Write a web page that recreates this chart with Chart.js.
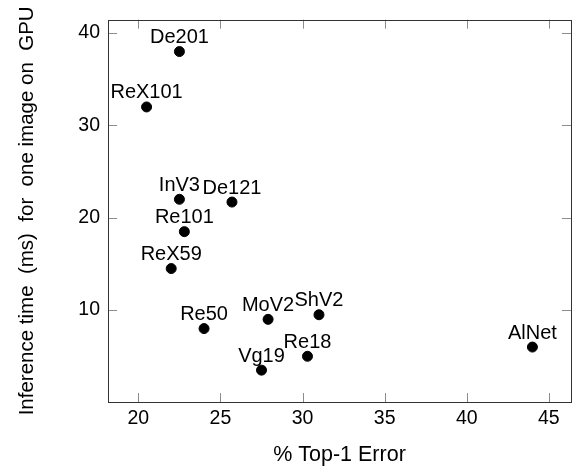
<!DOCTYPE html>
<html>
<head>
<meta charset="utf-8">
<script src="https://cdn.jsdelivr.net/npm/chart.js@4.4.1/dist/chart.umd.min.js"></script>
<style>
  html, body { margin: 0; padding: 0; background: #fff; }
  #wrap { width: 577px; height: 469px; position: relative; }
</style>
</head>
<body>
<div id="wrap"><canvas id="c" width="577" height="469"></canvas></div>
<script>
const models = ['De201', 'ReX101', 'InV3', 'De121', 'Re101', 'ReX59', 'Re50', 'MoV2', 'ShV2', 'Vg19', 'Re18', 'AlNet'];
const top1Error = [22.5, 20.5, 22.5, 25.7, 22.8, 22.0, 24.0, 27.9, 31.0, 27.5, 30.3, 44.0];
const inferenceMs = [38, 32, 22, 21.7, 18.5, 14.5, 8, 9, 9.5, 3.5, 5, 6];
const xTicks = [20, 25, 30, 35, 40, 45];
const yTicks = [10, 20, 30, 40];

const FONT = '"Liberation Sans", Arial, Helvetica, sans-serif';

const framePlugin = {
  id: 'frame',
  afterDatasetsDraw(chart) {
    const ctx = chart.ctx;
    const a = chart.chartArea;
    const xs = chart.scales.x, ys = chart.scales.y;
    ctx.save();
    ctx.strokeStyle = '#8c8c8c';
    ctx.lineWidth = 1;
    const tl = 9;
    xTicks.forEach(v => {
      const px = Math.round(xs.getPixelForValue(v)) + 0.5;
      ctx.beginPath();
      ctx.moveTo(px, a.bottom); ctx.lineTo(px, a.bottom - tl);
      ctx.moveTo(px, a.top); ctx.lineTo(px, a.top + tl);
      ctx.stroke();
    });
    yTicks.forEach(v => {
      const py = Math.round(ys.getPixelForValue(v)) + 0.5;
      ctx.beginPath();
      ctx.moveTo(a.left, py); ctx.lineTo(a.left + tl, py);
      ctx.moveTo(a.right, py); ctx.lineTo(a.right - tl, py);
      ctx.stroke();
    });
    ctx.strokeStyle = '#333333';
    ctx.lineWidth = 1;
    ctx.strokeRect(Math.round(a.left) + 0.5, Math.round(a.top) + 0.5,
                   Math.round(a.right - a.left), Math.round(a.bottom - a.top));
    const meta = chart.getDatasetMeta(0);
    ctx.fillStyle = '#000';
    ctx.font = '20px ' + FONT;
    ctx.textAlign = 'center';
    ctx.textBaseline = 'alphabetic';
    meta.data.forEach((el, i) => {
      ctx.fillText(models[i], el.x, el.y - 8.5);
    });
    ctx.restore();
  }
};

new Chart(document.getElementById('c'), {
  type: 'scatter',
  data: {
    datasets: [{
      data: top1Error.map((x, i) => ({ x: x, y: inferenceMs[i] })),
      backgroundColor: '#000',
      borderColor: '#000',
      pointRadius: 5,
      pointHoverRadius: 5
    }]
  },
  options: {
    responsive: false,
    animation: false,
    events: [],
    layout: { padding: { top: 15, right: 2.5, left: 0, bottom: 0 } },
    plugins: { legend: { display: false }, tooltip: { enabled: false } },
    scales: {
      x: {
        type: 'linear',
        min: 18.15, max: 46.35,
        afterBuildTicks: s => { s.ticks = xTicks.map(v => ({ value: v })); },
        afterFit: s => { s.height = 67; },
        grid: { display: false, drawTicks: false },
        border: { display: false },
        ticks: { color: '#000', font: { family: FONT, size: 19.5 }, padding: 5, maxRotation: 0 },
        title: { display: true, text: '% Top-1 Error', color: '#000', font: { family: FONT, size: 21.5 }, padding: { top: 0, bottom: 1 } }
      },
      y: {
        type: 'linear',
        min: 0.05, max: 41.45,
        afterBuildTicks: s => { s.ticks = yTicks.map(v => ({ value: v })); },
        afterFit: s => { s.width = 108; },
        grid: { display: false, drawTicks: false },
        border: { display: false },
        ticks: { color: '#000', font: { family: FONT, size: 19.5 }, padding: 8 },
        title: { display: true, text: 'Inference time  (ms)  for  one image on  GPU', color: '#000', font: { family: FONT, size: 20.5 }, padding: { top: 15, bottom: 0 } }
      }
    }
  },
  plugins: [framePlugin]
});
</script>
</body>
</html>
